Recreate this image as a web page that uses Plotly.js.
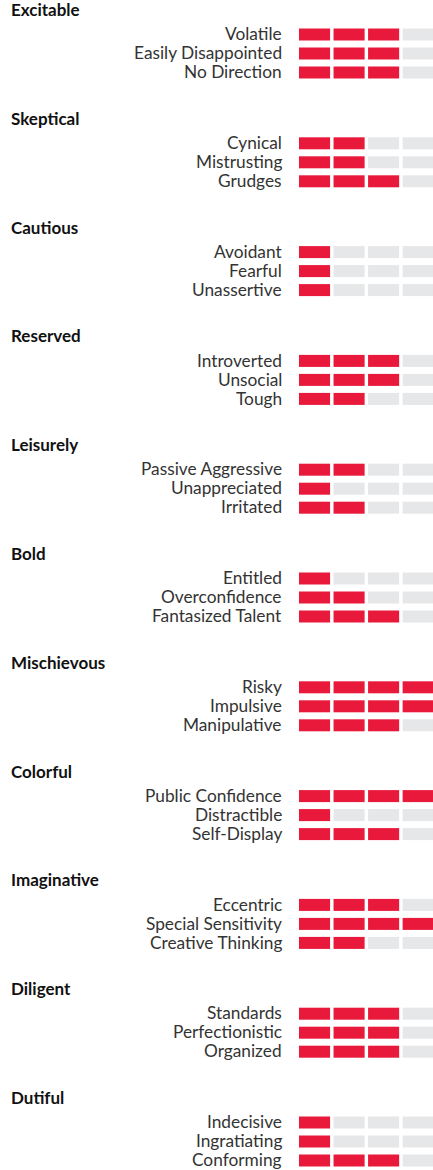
<!DOCTYPE html>
<html>
<head>
<meta charset="utf-8">
<script src="https://cdn.plot.ly/plotly-3.0.1.min.js"></script>
<style>html,body{margin:0;padding:0;background:#fff;}#chart{width:433px;height:1170px;}</style>
</head>
<body>
<div id="chart"></div>
<script>
const groups = ['Excitable','Skeptical','Cautious','Reserved','Leisurely','Bold','Mischievous','Colorful','Imaginative','Diligent','Dutiful'];
const subscales = [
  'Volatile','Easily Disappointed','No Direction',
  'Cynical','Mistrusting','Grudges',
  'Avoidant','Fearful','Unassertive',
  'Introverted','Unsocial','Tough',
  'Passive Aggressive','Unappreciated','Irritated',
  'Entitled','Overconfidence','Fantasized Talent',
  'Risky','Impulsive','Manipulative',
  'Public Confidence','Distractible','Self-Display',
  'Eccentric','Special Sensitivity','Creative Thinking',
  'Standards','Perfectionistic','Organized',
  'Indecisive','Ingratiating','Conforming'
];
const scores = [
  3,3,3,
  2,2,3,
  1,1,1,
  3,3,2,
  2,1,2,
  1,2,3,
  4,4,3,
  4,1,3,
  3,4,2,
  3,3,3,
  1,1,3
];
const maxScore = 4;

const RED = '#E8193A', GREY = '#E6E7E8';
const FONT = 'Lato, "Source Sans Pro", "Open Sans", sans-serif';
const groupTop = 9.5, groupPitch = 108.8, rowOffset = 25, rowPitch = 19;

const segX = [], segBase = [], segY = [], segColor = [];
const annotations = [];
groups.forEach((g, gi) => {
  const ty = groupTop + gi * groupPitch;
  annotations.push({
    text: '<b>' + g + '</b>', x: 0, xref: 'paper', xanchor: 'left', xshift: -290,
    y: ty, yref: 'y', yanchor: 'middle', showarrow: false,
    font: {family: FONT, size: 17, color: '#111'}
  });
  for (let r = 0; r < 3; r++) {
    const idx = gi * 3 + r;
    const ry = ty + rowOffset + r * rowPitch;
    annotations.push({
      text: subscales[idx], x: 0, xref: 'paper', xanchor: 'right', xshift: -15,
      y: ry - 0.8, yref: 'y', yanchor: 'middle', showarrow: false,
      font: {family: FONT, size: 17.3, color: '#333'}
    });
    for (let s = 0; s < maxScore; s++) {
      segX.push(0.9);
      segBase.push(s);
      segY.push(ry);
      segColor.push(s < scores[idx] ? RED : GREY);
    }
  }
});

const trace = {
  type: 'bar', orientation: 'h',
  x: segX, base: segBase, y: segY, width: 12,
  marker: {color: segColor, line: {width: 0}},
  hoverinfo: 'skip'
};

const layout = {
  width: 433, height: 1170,
  margin: {l: 299, r: 0, t: 0, b: 0, pad: 0},
  paper_bgcolor: '#fff', plot_bgcolor: '#fff',
  showlegend: false,
  barmode: 'overlay',
  xaxis: {range: [0, 3.88], visible: false, fixedrange: true},
  yaxis: {range: [1170, 0], visible: false, fixedrange: true},
  annotations: annotations
};

Plotly.newPlot('chart', [trace], layout, {displayModeBar: false, staticPlot: true});
</script>
</body>
</html>
